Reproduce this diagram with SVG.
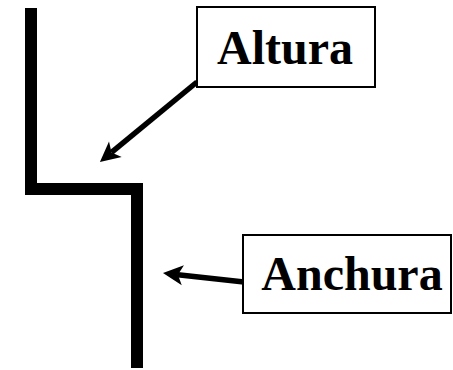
<svg xmlns="http://www.w3.org/2000/svg" width="453" height="370" viewBox="0 0 453 370">
<style>
.box{fill:#fff;stroke:#000;stroke-width:2}
.lbl{font-family:"Liberation Serif","Times New Roman",serif;font-weight:bold;font-size:48px;fill:#000;text-anchor:middle}
.wall{fill:none;stroke:#000;stroke-width:12;stroke-linejoin:miter}
.conn{fill:none;stroke:#000;stroke-width:5.5}
</style>
<defs>
<marker id="ah" viewBox="0 0 20 20" refX="5" refY="10" markerWidth="20" markerHeight="20" markerUnits="userSpaceOnUse" orient="auto" overflow="visible">
<path d="M0,0 L20,10 L0,20 L5,10 Z" fill="#000"/>
</marker>
</defs>
<g id="wall">
<path class="wall" d="M31,8 V189 H137 V368"/>
</g>
<g id="connectors">
<line class="conn" x1="197" y1="82" x2="111.5" y2="152.4" marker-end="url(#ah)"/>
<line class="conn" x1="244" y1="282" x2="177.9" y2="274.7" marker-end="url(#ah)"/>
</g>
<g id="altura">
<rect class="box" x="197" y="7" width="178" height="80"/>
<text class="lbl" x="285" y="64">Altura</text>
</g>
<g id="anchura">
<rect class="box" x="243" y="235" width="208" height="78"/>
<text class="lbl" x="352" y="290">Anchura</text>
</g>
</svg>
